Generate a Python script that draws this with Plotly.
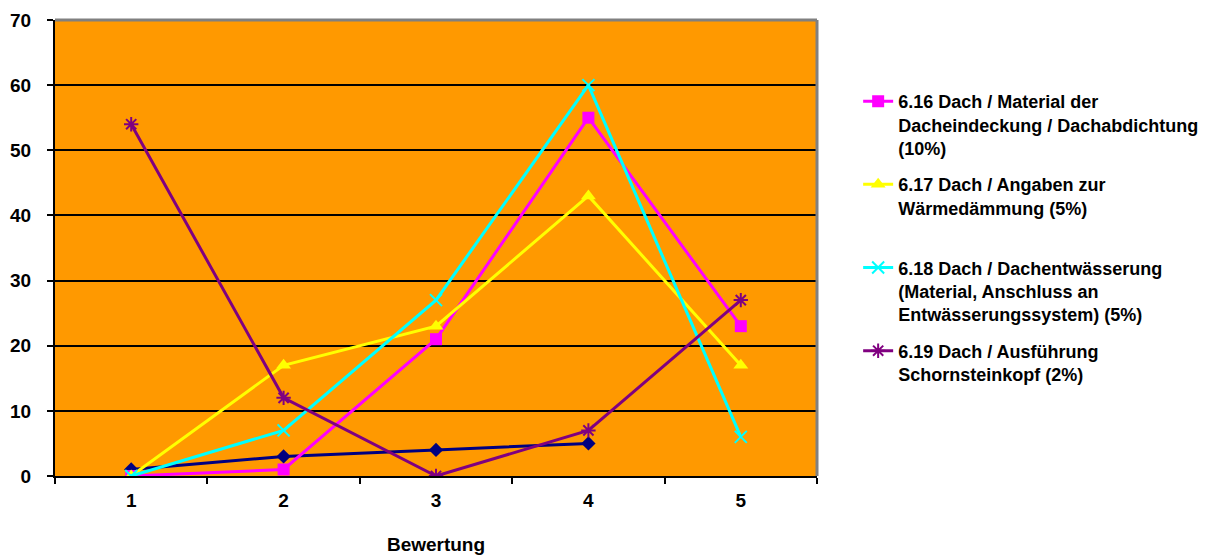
import plotly.graph_objects as go

# Bewertung categories (rating 1..5)
categories = ["1", "2", "3", "4", "5"]

# Counts per rating for each item
navy_values = [1, 3, 4, 5]
dach_material = [0, 1, 21, 55, 23]
dach_waerme = [0, 17, 23, 43, 17]
dach_entwaesserung = [0, 7, 27, 60, 6]
dach_schornstein = [54, 12, 0, 7, 27]

name_material = "6.16 Dach / Material der<br>Dacheindeckung / Dachabdichtung<br>(10%)"
name_waerme = "6.17 Dach / Angaben zur<br>Wärmedämmung (5%)<br> "
name_entw = "6.18 Dach / Dachentwässerung<br>(Material, Anschluss an<br>Entwässerungssystem) (5%)"
name_schorn = "6.19 Dach / Ausführung<br>Schornsteinkopf (2%)"

FONT = "Liberation Sans, Arial, sans-serif"

fig = go.Figure()

fig.add_trace(go.Scatter(
    x=categories[:len(navy_values)], y=navy_values, mode="lines+markers",
    line=dict(color="#000080", width=3),
    marker=dict(symbol="diamond", size=11, color="#000080"),
    showlegend=False,
))
fig.add_trace(go.Scatter(
    x=categories, y=dach_material, mode="lines+markers", name=name_material,
    legendgroup="a",
    line=dict(color="#FF00FF", width=3),
    marker=dict(symbol="square", size=12, color="#FF00FF"),
))
fig.add_trace(go.Scatter(
    x=categories, y=dach_waerme, mode="lines+markers", name=name_waerme,
    legendgroup="b",
    line=dict(color="#FFFF00", width=3),
    marker=dict(symbol="triangle-up", size=13, color="#FFFF00"),
))
fig.add_trace(go.Scatter(
    x=categories, y=dach_entwaesserung, mode="lines+markers", name=name_entw,
    legendgroup="c",
    line=dict(color="#00FFFF", width=3),
    marker=dict(symbol="x-thin-open", size=12, color="#00FFFF",
                line=dict(color="#00FFFF", width=2)),
))
fig.add_trace(go.Scatter(
    x=categories, y=dach_schornstein, mode="lines+markers", name=name_schorn,
    legendgroup="d",
    line=dict(color="#800080", width=3),
    marker=dict(symbol="asterisk-open", size=12, color="#800080",
                line=dict(color="#800080", width=2)),
))

# Grey plot-area frame on top and right
fig.add_shape(type="line", xref="paper", yref="paper", x0=0, x1=1, y0=1, y1=1,
              line=dict(color="#808080", width=3))
fig.add_shape(type="line", xref="paper", yref="paper", x0=1, x1=1, y0=0, y1=1,
              line=dict(color="#808080", width=3))

fig.update_layout(
    width=1219, height=555,
    margin=dict(l=55, r=402, t=20, b=79),
    paper_bgcolor="white",
    plot_bgcolor="#FF9900",
    font=dict(family=FONT, size=18, color="black"),
    legend=dict(
        x=1.054, xanchor="left", y=0.862, yanchor="top",
        font=dict(family=FONT, size=18, color="black", weight="bold"),
        valign="top", tracegroupgap=10, bgcolor="rgba(0,0,0,0)",
        traceorder="grouped",
    ),
    xaxis=dict(
        type="category", range=[-0.5, 4.5], tickson="boundaries",
        ticks="outside", ticklen=6, automargin=False,
        tickcolor="black", tickwidth=2, showline=True, linecolor="black",
        linewidth=2, showgrid=False, ticklabelstandoff=6,
        tickfont=dict(family=FONT, size=19, weight="bold"),
        title=dict(text="<b>Bewertung</b>", standoff=33,
                   font=dict(family=FONT, size=19)),
    ),
    yaxis=dict(
        range=[0, 70], dtick=10, ticks="outside", ticklen=6, tickcolor="black",
        tickwidth=2, showline=True, linecolor="black", linewidth=2,
        showgrid=True, gridcolor="black", gridwidth=1.5, zeroline=False,
        ticklabelstandoff=12, automargin=False,
        tickfont=dict(family=FONT, size=19, weight="bold"),
    ),
)

fig.write_html("out.html")
